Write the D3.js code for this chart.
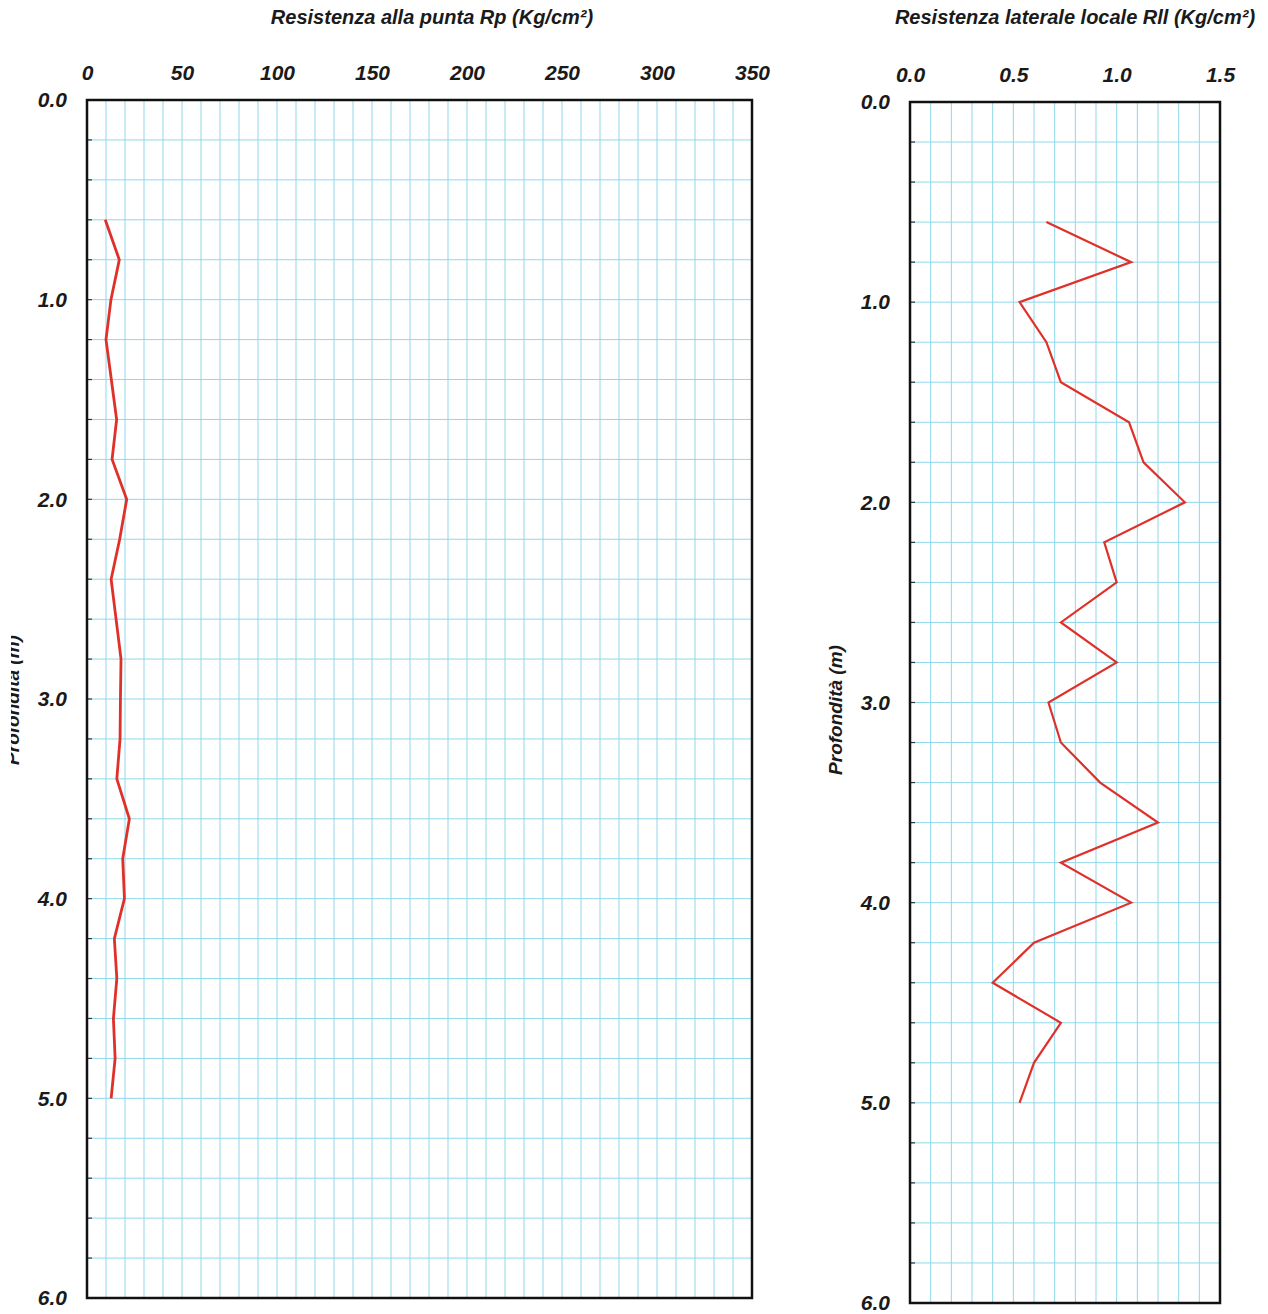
<!DOCTYPE html>
<html>
<head>
<meta charset="utf-8">
<script src="https://cdn.jsdelivr.net/npm/d3@7"></script>
<style>
  html, body { margin: 0; padding: 0; background: #ffffff; }
  svg { display: block; }
  text { font-family: "Liberation Sans", Arial, sans-serif; font-weight: bold; font-style: italic; fill: #1a1a1a; }
</style>
</head>
<body>
<svg id="chart" width="1268" height="1314"></svg>
<script>
// ---- data ----
const depths = [0.6, 0.8, 1.0, 1.2, 1.4, 1.6, 1.8, 2.0, 2.2, 2.4, 2.6, 2.8, 3.0, 3.2, 3.4, 3.6, 3.8, 4.0, 4.2, 4.4, 4.6, 4.8, 5.0];
const rpValues = [9.6, 17.0, 12.6, 10.0, 12.8, 15.6, 13.2, 20.9, 17.2, 12.7, 15.3, 17.9, 17.6, 17.4, 15.7, 22.3, 18.8, 19.7, 14.4, 15.7, 13.9, 14.8, 12.7];
const rllValues = [0.66, 1.07, 0.53, 0.66, 0.73, 1.06, 1.13, 1.33, 0.94, 1.0, 0.73, 1.0, 0.67, 0.73, 0.92, 1.2, 0.73, 1.07, 0.6, 0.4, 0.73, 0.6, 0.53];
const rpTicks = [0, 50, 100, 150, 200, 250, 300, 350];
const rpTickLabels = ["0", "50", "100", "150", "200", "250", "300", "350"];
const rllTicks = [0, 0.5, 1.0, 1.5];
const rllTickLabels = ["0.0", "0.5", "1.0", "1.5"];
const depthTicks = [0, 1, 2, 3, 4, 5, 6];
const depthTickLabels = ["0.0", "1.0", "2.0", "3.0", "4.0", "5.0", "6.0"];
const titleRp = "Resistenza alla punta Rp (Kg/cm²)";
const titleRll = "Resistenza laterale locale Rll (Kg/cm²)";
const yLabel = "Profondità (m)";

const svg = d3.select("#chart");
const gridColor = "#8fd8ea";
const lineColor = "#e0302a";

// clip for the partially hidden left depth label
svg.append("defs").append("clipPath").attr("id", "leftLabelClip")
  .append("rect").attr("x", 11).attr("y", 0).attr("width", 60).attr("height", 1314);

function drawPanel(cfg) {
  const x = d3.scaleLinear().domain([0, cfg.xMax]).range([cfg.left, cfg.right]);
  const y = d3.scaleLinear().domain([0, 6]).range([cfg.top, cfg.bottom]);
  const g = svg.append("g");

  // grid
  g.append("g").selectAll("line.v").data(d3.range(cfg.gridStep, cfg.xMax - cfg.gridStep / 2, cfg.gridStep))
    .join("line")
    .attr("x1", d => x(d)).attr("x2", d => x(d))
    .attr("y1", cfg.top).attr("y2", cfg.bottom)
    .attr("stroke", gridColor).attr("stroke-width", 1);
  g.append("g").selectAll("line.h").data(d3.range(1, 30).map(i => i * 0.2))
    .join("line")
    .attr("x1", cfg.left).attr("x2", cfg.right)
    .attr("y1", d => y(d)).attr("y2", d => y(d))
    .attr("stroke", gridColor).attr("stroke-width", 1);

  // minor ticks on the depth axis (inside)
  g.append("g").selectAll("line.t").data(d3.range(1, 30).map(i => i * 0.2))
    .join("line")
    .attr("x1", cfg.left).attr("x2", cfg.left + 5)
    .attr("y1", d => y(d)).attr("y2", d => y(d))
    .attr("stroke", "#333").attr("stroke-width", 1.2);

  // data line
  const pts = depths.map((d, i) => [cfg.values[i], d]);
  g.append("path")
    .datum(pts)
    .attr("fill", "none")
    .attr("stroke", lineColor)
    .attr("stroke-width", cfg.lineWidth)
    .attr("stroke-linejoin", "miter")
    .attr("d", d3.line().x(d => x(d[0])).y(d => y(d[1])));

  // frame
  g.append("rect")
    .attr("x", cfg.left).attr("y", cfg.top)
    .attr("width", cfg.right - cfg.left).attr("height", cfg.bottom - cfg.top)
    .attr("fill", "none").attr("stroke", "#111").attr("stroke-width", 2.5);

  // top axis labels
  const xAxis = d3.axisTop(x).tickValues(cfg.xTicks).tickSize(0).tickPadding(0)
    .tickFormat((d, i) => cfg.xTickLabels[i]);
  const xa = g.append("g").attr("transform", `translate(0, ${cfg.top - 20})`).call(xAxis);
  xa.select(".domain").remove();
  xa.selectAll("text").attr("font-size", 21).attr("fill", "#1a1a1a")
    .style("font-family", "'Liberation Sans', Arial, sans-serif")
    .style("font-weight", "bold").style("font-style", "italic");

  // left depth labels
  const yAxis = d3.axisLeft(y).tickValues(depthTicks).tickSize(0).tickPadding(0)
    .tickFormat((d, i) => depthTickLabels[i]);
  const ya = g.append("g").attr("transform", `translate(${cfg.left - 20}, 0)`).call(yAxis);
  ya.select(".domain").remove();
  ya.selectAll("text").attr("font-size", 21).attr("fill", "#1a1a1a")
    .style("font-family", "'Liberation Sans', Arial, sans-serif")
    .style("font-weight", "bold").style("font-style", "italic");

  // title
  g.append("text")
    .attr("x", cfg.titleX).attr("y", 24)
    .attr("text-anchor", "middle")
    .attr("font-size", 20)
    .text(cfg.title);

  // y label
  const lg = g.append("g");
  if (cfg.clipLabel) lg.attr("clip-path", "url(#leftLabelClip)");
  lg.append("text")
    .attr("transform", `translate(${cfg.yLabelX}, ${cfg.yLabelY}) rotate(-90)`)
    .attr("text-anchor", "middle")
    .attr("font-size", 19)
    .text(yLabel);
}

drawPanel({
  left: 87, right: 752, top: 100, bottom: 1298,
  xMax: 350, gridStep: 10,
  xTicks: rpTicks, xTickLabels: rpTickLabels,
  values: rpValues, lineWidth: 2.8,
  title: titleRp, titleX: 432,
  yLabelX: 19, yLabelY: 700, clipLabel: true
});

drawPanel({
  left: 910, right: 1220, top: 102, bottom: 1303,
  xMax: 1.5, gridStep: 0.1,
  xTicks: rllTicks, xTickLabels: rllTickLabels,
  values: rllValues, lineWidth: 2.2,
  title: titleRll, titleX: 1075,
  yLabelX: 842, yLabelY: 710, clipLabel: false
});
</script>
</body>
</html>
